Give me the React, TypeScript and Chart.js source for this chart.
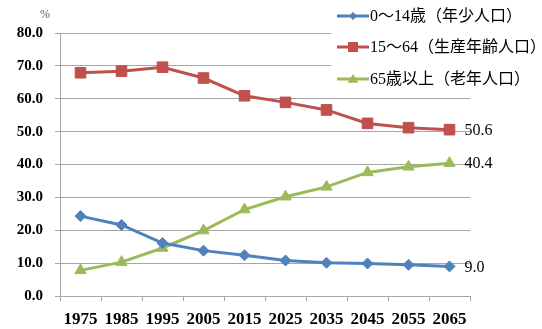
import { useEffect, useRef } from "react";
import { Chart, registerables } from "chart.js";

Chart.register(...registerables);

// Census years and projections
const years = ["1975", "1985", "1995", "2005", "2015", "2025", "2035", "2045", "2055", "2065"];

// Share of total population by age group (%)
const youngShare = [24.3, 21.6, 16.1, 13.8, 12.4, 10.8, 10.1, 9.9, 9.5, 9.0];
const workingShare = [67.9, 68.4, 69.6, 66.3, 60.9, 58.9, 56.6, 52.5, 51.2, 50.6];
const elderlyShare = [7.8, 10.3, 14.6, 19.9, 26.3, 30.2, 33.2, 37.6, 39.3, 40.4];

const seriesNames = ["0～14歳（年少人口）", "15～64（生産年齢人口）", "65歳以上（老年人口）"];
const unitLabel = "%";

const yMin = 0;
const yMax = 80;
const yStep = 10;

const BLUE = "#4F81BD";
const RED = "#C0504D";
const GREEN = "#9BBB59";
const GRID = "#a6a6a6";
const SERIF = '"Liberation Serif", "Noto Sans CJK JP", serif';

type Shape = "rectRot" | "rect" | "triangle";

function drawMarker(ctx: CanvasRenderingContext2D, shape: Shape, x: number, y: number, r: number, color: string) {
  ctx.save();
  ctx.fillStyle = color;
  ctx.beginPath();
  if (shape === "rectRot") {
    ctx.moveTo(x, y - r);
    ctx.lineTo(x + r, y);
    ctx.lineTo(x, y + r);
    ctx.lineTo(x - r, y);
  } else if (shape === "rect") {
    ctx.rect(x - r, y - r, r * 2, r * 2);
  } else {
    ctx.moveTo(x, y - r);
    ctx.lineTo(x + r * 1.1, y + r * 0.75);
    ctx.lineTo(x - r * 1.1, y + r * 0.75);
  }
  ctx.closePath();
  ctx.fill();
  ctx.restore();
}

const overlayPlugin = {
  id: "overlay",
  afterDraw(chart: any) {
    const ctx: CanvasRenderingContext2D = chart.ctx;
    ctx.save();

    // value labels at the last point of every series
    ctx.font = `16px ${SERIF}`;
    ctx.fillStyle = "#000";
    ctx.textAlign = "left";
    ctx.textBaseline = "middle";
    chart.data.datasets.forEach((ds: any, i: number) => {
      const meta = chart.getDatasetMeta(i);
      const pt = meta.data[meta.data.length - 1];
      const v = ds.data[ds.data.length - 1] as number;
      ctx.fillText(v.toFixed(1), pt.x + 15, pt.y + 1);
    });

    // unit above the value axis
    ctx.font = `12px ${SERIF}`;
    ctx.fillStyle = "#595959";
    ctx.textAlign = "center";
    ctx.fillText(unitLabel, 45, 15);

    // legend box, top right
    ctx.fillStyle = "#fff";
    ctx.fillRect(331, 0, 211, 92);
    const shapes: Shape[] = ["rectRot", "rect", "triangle"];
    const colors = [BLUE, RED, GREEN];
    const sizes = [4, 5, 5];
    const rows = [16, 47, 79];
    ctx.font = `16px ${SERIF}`;
    ctx.textAlign = "left";
    seriesNames.forEach((name, i) => {
      const y = rows[i];
      ctx.strokeStyle = colors[i];
      ctx.lineWidth = 3;
      ctx.beginPath();
      ctx.moveTo(337, y);
      ctx.lineTo(369, y);
      ctx.stroke();
      drawMarker(ctx, shapes[i], 353, y, sizes[i], colors[i]);
      ctx.fillStyle = "#000";
      ctx.fillText(name, 370, y + 1);
    });

    ctx.restore();
  },
};

export default function App() {
  const canvasRef = useRef<HTMLCanvasElement | null>(null);

  useEffect(() => {
    const canvas = canvasRef.current;
    if (!canvas) return;
    const chart = new Chart(canvas, {
      type: "line",
      data: {
        labels: years,
        datasets: [
          {
            label: seriesNames[0],
            data: youngShare,
            borderColor: BLUE,
            backgroundColor: BLUE,
            borderWidth: 3,
            pointStyle: "rectRot",
            pointRadius: 5.5,
            pointBorderWidth: 1,
            tension: 0,
          },
          {
            label: seriesNames[1],
            data: workingShare,
            borderColor: RED,
            backgroundColor: RED,
            borderWidth: 3,
            pointStyle: "rect",
            pointRadius: 7.5,
            pointBorderWidth: 1,
            tension: 0,
          },
          {
            label: seriesNames[2],
            data: elderlyShare,
            borderColor: GREEN,
            backgroundColor: GREEN,
            borderWidth: 3,
            pointStyle: "triangle",
            pointRadius: 6.5,
            pointBorderWidth: 1,
            tension: 0,
          },
        ],
      },
      options: {
        responsive: false,
        animation: false,
        devicePixelRatio: 1,
        layout: { padding: { top: 33, right: 72, left: 0, bottom: 0 } },
        plugins: {
          legend: { display: false },
          tooltip: { enabled: false },
        },
        scales: {
          x: {
            type: "category",
            offset: true,
            afterFit: (scale: any) => {
              scale.height = 33;
            },
            grid: {
              offset: true,
              drawOnChartArea: false,
              drawTicks: true,
              tickLength: 5,
              color: GRID,
            },
            border: { display: true, color: GRID, width: 1 },
            ticks: {
              color: "#000",
              padding: 8,
              maxRotation: 0,
              autoSkip: false,
              font: { family: SERIF, size: 17, weight: "bold" },
            },
          },
          y: {
            min: yMin,
            max: yMax,
            afterFit: (scale: any) => {
              scale.width = 60;
            },
            grid: { color: GRID, drawTicks: true, tickLength: 5 },
            border: { display: true, color: GRID, width: 1 },
            ticks: {
              stepSize: yStep,
              color: "#000",
              padding: 12,
              font: { family: SERIF, size: 15, weight: "bold" },
              callback: (v: any) => Number(v).toFixed(1),
            },
          },
        },
      },
      plugins: [overlayPlugin],
    });
    return () => chart.destroy();
  }, []);

  return (
    <div style={{ position: "fixed", left: 0, top: 0, width: 542, height: 329, background: "#fff" }}>
      <canvas ref={canvasRef} width={542} height={329} style={{ display: "block" }} />
    </div>
  );
}
